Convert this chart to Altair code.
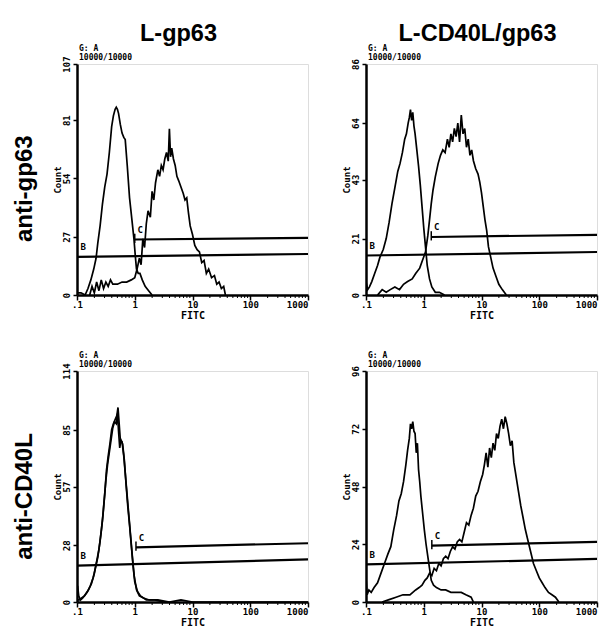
import altair as alt
import pandas as pd

# ---------------- data (log10 FITC position, event count) ----------------
# Panel 1: L-gp63 / anti-gp63
p1_ctrl_log = [-1.0,-0.93,-0.86,-0.81,-0.76,-0.71,-0.67,-0.64,-0.6,-0.56,-0.52,-0.48,-0.44,-0.4,-0.37,-0.34,-0.32,-0.3,-0.28,-0.25,-0.22,-0.19,-0.165,-0.13,-0.09,-0.05,-0.014,0.01,0.03,0.06,0.09,0.13,0.18,0.24,0.3]
p1_ctrl_cnt = [1,1,0,3,7,12,17,24,32,42,50,56,66,78,83,86,87,86,84,79,75,73,72,60,45,35,26,18,12,10,10,7,4,2,0]
p1_stain_log = [-0.78,-0.74,-0.7,-0.66,-0.62,-0.58,-0.54,-0.5,-0.46,-0.42,-0.38,-0.3,-0.22,-0.14,-0.06,0.0,0.04,0.08,0.11,0.14,0.17,0.2,0.23,0.27,0.3,0.33,0.36,0.4,0.43,0.46,0.49,0.52,0.55,0.58,0.6,0.62,0.64,0.67,0.7,0.73,0.76,0.8,0.84,0.87,0.9,0.93,0.96,1.0,1.04,1.08,1.12,1.16,1.2,1.24,1.28,1.33,1.38,1.42,1.46,1.5,1.54,1.57]
p1_stain_cnt = [0,4,1,6,2,7,3,6,4,7,5,5,6,6,7,8,12,17,14,26,22,33,39,36,48,44,52,58,55,60,58,63,66,62,77,64,68,63,60,55,53,50,47,44,45,38,32,28,23,21,20,15,16,10,12,8,9,5,6,3,4,0]

# Panel 2: L-CD40L/gp63 / anti-gp63
p2_ctrl_log = [-1.0,-0.97,-0.94,-0.9,-0.85,-0.8,-0.76,-0.7,-0.65,-0.6,-0.55,-0.5,-0.45,-0.41,-0.37,-0.33,-0.3,-0.27,-0.25,-0.23,-0.21,-0.19,-0.17,-0.15,-0.12,-0.09,-0.06,-0.03,0.0,0.03,0.06,0.1,0.14,0.2,0.27,0.36]
p2_ctrl_cnt = [5,2,3,5,8,11,14,17,21,27,34,40,46,49,53,58,60,64,66,69,65,68,63,60,54,48,41,33,25,18,11,6,3,1,1,0]
p2_stain_log = [-0.8,-0.72,-0.65,-0.58,-0.5,-0.42,-0.35,-0.28,-0.2,-0.14,-0.07,-0.02,0.03,0.07,0.1,0.13,0.16,0.2,0.25,0.29,0.33,0.37,0.41,0.44,0.47,0.5,0.53,0.56,0.59,0.62,0.65,0.68,0.71,0.74,0.77,0.8,0.83,0.86,0.9,0.94,0.97,1.0,1.03,1.06,1.09,1.12,1.16,1.2,1.25,1.3,1.36,1.43]
p2_stain_cnt = [0,2,1,2,3,2,4,5,6,8,10,13,16,22,28,34,39,44,49,52,54,53,58,55,60,57,62,59,64,57,67,60,62,55,58,52,54,50,47,45,42,38,33,28,24,18,14,10,7,4,2,0]

# Panel 3: L-gp63 / anti-CD40L
p3_ctrl_log = [-1.0,-0.99,-0.97,-0.94,-0.9,-0.85,-0.8,-0.75,-0.7,-0.66,-0.62,-0.58,-0.55,-0.52,-0.49,-0.46,-0.43,-0.4,-0.37,-0.34,-0.31,-0.29,-0.27,-0.25,-0.22,-0.19,-0.16,-0.13,-0.1,-0.07,-0.04,-0.01,0.03,0.08,0.15,0.25,0.4,0.6,0.8,1.0,1.2,2.0,3.0]
p3_ctrl_cnt = [2,8,3,1,2,4,6,9,14,20,26,35,43,53,65,72,78,85,88,90,92,96,88,80,79,72,62,52,42,32,22,13,6,3,2,1,1,0,1,0,0,0,0]
p3_stain_log = [-1.0,-0.96,-0.92,-0.87,-0.82,-0.77,-0.72,-0.68,-0.64,-0.6,-0.56,-0.53,-0.5,-0.47,-0.44,-0.41,-0.38,-0.35,-0.32,-0.3,-0.28,-0.26,-0.24,-0.21,-0.18,-0.15,-0.12,-0.09,-0.06,-0.03,0.0,0.05,0.1,0.2,0.35,0.5]
p3_stain_cnt = [1,1,2,3,5,8,12,17,22,30,40,50,60,68,74,80,86,89,88,93,84,76,80,78,70,58,47,38,28,18,10,5,3,1,1,0]

# Panel 4: L-CD40L/gp63 / anti-CD40L
p4_ctrl_log = [-1.0,-0.98,-0.95,-0.91,-0.86,-0.8,-0.74,-0.68,-0.62,-0.57,-0.52,-0.47,-0.43,-0.39,-0.35,-0.31,-0.28,-0.25,-0.23,-0.21,-0.19,-0.17,-0.15,-0.13,-0.11,-0.09,-0.07,-0.05,-0.02,0.01,0.04,0.07,0.1,0.13,0.17,0.22,0.3,0.38,0.47,0.56,0.65,0.73,0.82,0.86]
p4_ctrl_cnt = [10,3,5,4,6,8,12,16,20,23,30,36,42,45,50,57,63,68,74,72,75,71,70,62,66,55,50,44,37,30,24,19,14,9,7,6,5,5,4,4,4,3,2,0]
p4_stain_log = [-0.72,-0.6,-0.48,-0.36,-0.24,-0.14,-0.08,-0.03,0.02,0.06,0.1,0.14,0.18,0.22,0.26,0.3,0.34,0.38,0.42,0.46,0.5,0.54,0.58,0.62,0.66,0.7,0.74,0.78,0.82,0.86,0.9,0.94,0.98,1.02,1.05,1.08,1.11,1.14,1.17,1.2,1.23,1.26,1.29,1.32,1.35,1.38,1.41,1.44,1.47,1.5,1.53,1.56,1.6,1.64,1.68,1.72,1.76,1.8,1.85,1.9,1.95,2.0,2.05,2.1,2.16,2.22,2.28,2.34]
p4_stain_cnt = [0,1,2,3,3,5,6,7,9,10,12,11,14,13,16,15,18,19,18,21,23,22,25,26,25,29,33,32,36,39,44,46,50,53,57,62,56,64,60,66,63,70,68,73,76,72,77,74,70,65,67,58,52,46,40,35,30,26,21,16,13,10,8,6,4,3,2,0]

# axis maxima and tick labels of each panel
y_max = [107, 86, 114, 96]
y_ticks = [[0, 27, 54, 81, 107], [0, 21, 43, 64, 86], [0, 28, 57, 85, 114], [0, 24, 48, 72, 96]]
x_ticks = [0.1, 1, 10, 100, 1000]
x_tick_labels = [".1", "1", "10", "100", "1000"]

# gate markers: B (left count, right count), C (start FITC, left count, right count)
gate_b = [(17.7, 19.0), (14.7, 16.0), (18.0, 21.0), (15.6, 17.9)]
gate_c = [(1.0, 25.7, 26.5), (1.35, 21.6, 22.4), (1.05, 27.0, 29.0), (1.38, 23.4, 25.0)]

col_titles = ["L-gp63", "L-CD40L/gp63"]
row_titles = ["anti-gp63", "anti-CD40L"]
header_gate = "G: A"
header_events = "10000/10000"

W, H = 231, 231
MONO = "DejaVu Sans Mono"
SANS = "Liberation Sans"

minor_positions = [k * 10 ** d for d in (-1, 0, 1, 2) for k in range(2, 10)]


def curve_df(logs, cnts, name):
    return pd.DataFrame({"fitc": [10 ** v for v in logs], "count": cnts, "curve": name})


def panel(curves, idx, title=None, title_dx=0):
    ymax = y_max[idx]
    xs = alt.Scale(type="log", domain=[0.1, 1000], nice=False)
    ys = alt.Scale(domain=[0, ymax], nice=False, zero=True)
    label_expr = ("datum.value < 0.5 ? '.1' : datum.value < 5 ? '1' : datum.value < 50 ? '10' : "
                  "datum.value < 500 ? '100' : '1000'")
    xaxis = alt.Axis(values=x_ticks, labelExpr=label_expr, title="FITC", grid=False,
                     labelFont=MONO, labelFontWeight="bold", labelFontSize=9, labelPadding=0,
                     labelAlign={"condition": {"test": "datum.value >= 1000", "value": "right"},
                                 "value": "center"},
                     titleFont=MONO, titleFontWeight="bold", titleFontSize=10, titlePadding=1,
                     tickSize=5, tickWidth=1.5, domainWidth=2.5, domainColor="black",
                     tickColor="black", labelColor="black", titleColor="black")
    yaxis = alt.Axis(values=y_ticks[idx], title="Count", grid=False, labelAngle=270,
                     labelAlign="center", labelBaseline="bottom",
                     labelFont=MONO, labelFontWeight="bold", labelFontSize=9, labelPadding=2,
                     titleFont=MONO, titleFontWeight="bold", titleFontSize=9, titlePadding=0,
                     tickSize=4, tickWidth=1.5, domainWidth=2.5, domainColor="black",
                     tickColor="black", labelColor="black", titleColor="black")

    df = pd.concat(curves, ignore_index=True)
    lines = alt.Chart(df).mark_line(color="black", strokeWidth=1.7, clip=True).encode(
        x=alt.X("fitc:Q", scale=xs, axis=xaxis),
        y=alt.Y("count:Q", scale=ys, axis=yaxis),
        detail="curve:N",
        order=alt.Order("fitc:Q"),
    )

    b_l, b_r = gate_b[idx]
    c_x, c_l, c_r = gate_c[idx]
    gates_df = pd.DataFrame({
        "x": [0.1, c_x], "x2": [1000, 1000], "y": [b_l, c_l], "y2": [b_r, c_r]})
    gates = alt.Chart(gates_df).mark_rule(color="black", strokeWidth=2.2).encode(
        x=alt.X("x:Q", scale=xs), x2="x2:Q", y=alt.Y("y:Q", scale=ys), y2="y2:Q")
    tick_df = pd.DataFrame({"x": [c_x], "y": [c_l - ymax * 0.015], "y2": [c_l + ymax * 0.025]})
    ctick = alt.Chart(tick_df).mark_rule(color="black", strokeWidth=1.5).encode(
        x=alt.X("x:Q", scale=xs), y=alt.Y("y:Q", scale=ys), y2="y2:Q")
    lab_df = pd.DataFrame({"x": [0.115, c_x * 1.12], "y": [b_l + ymax * 0.02, c_l + ymax * 0.02],
                           "t": ["B", "C"]})
    labels = alt.Chart(lab_df).mark_text(font=MONO, fontWeight="bold", fontSize=9,
                                         align="left", baseline="bottom", color="black").encode(
        x=alt.X("x:Q", scale=xs), y=alt.Y("y:Q", scale=ys), text="t:N")

    minor = alt.Chart(pd.DataFrame({"x": minor_positions})).mark_rule(
        color="black", strokeWidth=1).encode(
        x=alt.X("x:Q", scale=xs), y=alt.value(H), y2=alt.value(H + 3))

    head = alt.Chart(pd.DataFrame({"t": [header_gate, header_events], "yy": [-11, -2]})).mark_text(
        font=MONO, fontWeight="bold", fontSize=8, align="left", baseline="bottom",
        color="black").encode(x=alt.value(2), y=alt.Y("yy:Q", scale=None, axis=None), text="t:N")

    layer = alt.layer(lines, gates, ctick, labels, minor, head)
    props = dict(width=W, height=H)
    if title:
        props["title"] = alt.TitleParams(title, font=SANS, fontSize=23.5, fontWeight="bold",
                                         color="black", offset=0, dx=title_dx)
    return layer.properties(**props)


p1 = panel([curve_df(p1_ctrl_log, p1_ctrl_cnt, "ctrl"), curve_df(p1_stain_log, p1_stain_cnt, "stain")], 0, col_titles[0], -14)
p2 = panel([curve_df(p2_ctrl_log, p2_ctrl_cnt, "ctrl"), curve_df(p2_stain_log, p2_stain_cnt, "stain")], 1, col_titles[1], -4)
p3 = panel([curve_df(p3_ctrl_log, p3_ctrl_cnt, "ctrl"), curve_df(p3_stain_log, p3_stain_cnt, "stain")], 2)
p4 = panel([curve_df(p4_ctrl_log, p4_ctrl_cnt, "ctrl"), curve_df(p4_stain_log, p4_stain_cnt, "stain")], 3)


def row_title(t, dx):
    return alt.TitleParams(t, orient="left", font=SANS, fontSize=24, fontWeight="bold",
                           color="black", offset=16, anchor="middle", dx=dx)


row1 = alt.hconcat(p1, p2, spacing=31).properties(title=row_title(row_titles[0], -18))
row2 = alt.hconcat(p3, p4, spacing=31).properties(title=row_title(row_titles[1], -7))

chart = alt.vconcat(row1, row2, spacing=30).properties(
    padding={"left": 4, "top": 13, "right": 0, "bottom": 0}
).configure_view(stroke="black", strokeWidth=2.5).configure(background="white")

chart.save("out.html", embed_options={"renderer": "svg", "actions": False})
